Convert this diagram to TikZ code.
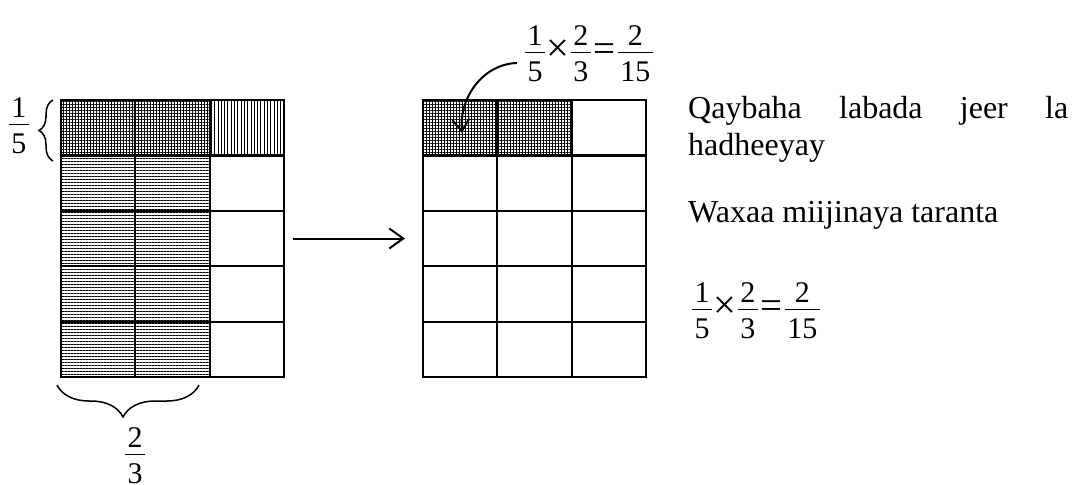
\documentclass[tikz,border=0pt]{standalone}
\usepackage{fontspec}
\setmainfont{Liberation Serif}
\usetikzlibrary{arrows.meta, positioning, patterns.meta, decorations.pathreplacing}
\newcommand{\fr}[2]{\raisebox{-22pt}{\vbox{\halign{\hfil\kern2.5pt##\kern2.5pt\hfil\cr #1\cr\noalign{\kern6pt\hrule height 1.3pt\kern9pt}#2\cr}}}}
\newcommand{\optimes}{\kern1.5pt\raisebox{-1.5pt}{\scalebox{1.35}{×}}\kern1.5pt}
\newcommand{\opeq}{\kern2.5pt\raisebox{-1.5pt}{\scalebox{1.3}{=}}\kern2.5pt}
\tikzset{
  gridbox/.style={rectangle, minimum width=223pt, minimum height=277pt, inner sep=0pt, outer sep=0pt},
  cellrule/.style={line width=2.2pt},
  crosshatch/.style={pattern={Hatch[angle=0, distance=3pt, line width=0.7pt]}},
  hlines/.style={pattern={Lines[angle=0, distance=3pt, line width=0.6pt]}},
  vlines/.style={pattern={Lines[angle=90, distance=3.3pt, line width=0.6pt]}},
  frac/.style={inner sep=0pt, font=\fontsize{30}{36}\selectfont},
  txt/.style={inner sep=0pt, anchor=base west, font=\fontsize{32}{38}\selectfont},
  curly/.style={decorate, line width=1.5pt},
  arr/.style={-{Straight Barb[length=14pt, width=20pt]}, line width=2pt},
  curvearr/.style={-{Straight Barb[length=12pt, width=17pt]}, line width=2pt},
}
\begin{document}
\begin{tikzpicture}[x=1pt, y=1pt, node distance=139pt]
  \useasboundingbox (0,0) rectangle (1072,-485);
  \node[gridbox] (lgrid) at (172.5,-238.5) {};
  \node[gridbox, right=of lgrid] (rgrid) {};
  \fill[crosshatch] (lgrid.north west) rectangle ++(148.67,-55.4);
  \fill[vlines] ([xshift=148.67pt]lgrid.north west) rectangle ++(74.33,-55.4);
  \fill[hlines] ([yshift=-55.4pt]lgrid.north west) rectangle ++(148.67,-221.6);
  \fill[crosshatch] (rgrid.north west) rectangle ++(148.67,-55.4);
  \foreach \g in {lgrid, rgrid} {
    \draw[cellrule] (\g.north west) rectangle (\g.south east);
    \foreach \i in {1,2}
      \draw[cellrule] ([xshift=\i*74.33pt]\g.north west) -- ([xshift=\i*74.33pt]\g.south west);
    \foreach \j in {1,...,4}
      \draw[cellrule] ([yshift=-\j*55.4pt]\g.north west) -- ([yshift=-\j*55.4pt]\g.north east);
  }
  \draw[arr, shorten <=9pt, shorten >=18pt] (lgrid) -- (rgrid);
  \node[frac] (fifth) at (19,-126) {\fr{1}{5}};
  \draw[curly, decoration={brace, amplitude=14pt}]
    ([shift={(-8,-61)}]lgrid.north west) -- ([xshift=-8pt]lgrid.north west);
  \draw[curly, decoration={brace, amplitude=32pt, aspect=0.535}]
    ([shift={(138,-8)}]lgrid.south west) -- ([shift={(-4,-8)}]lgrid.south west);
  \node[frac] (twothirds) at (135,-456) {\fr{2}{3}};
  \node[frac] (topeq) at (589,-54) {\fr{1}{5}\optimes\fr{2}{3}\opeq\fr{2}{15}};
  \coordinate (tip) at ([shift={(39,-33)}]rgrid.north west);
  \draw[curvearr] ([shift={(-8,-9)}]topeq.west) to[out=182, in=95] (tip);
  \node[txt] (line1) at (688,-118) {\makebox[380pt][s]{Qaybaha labada jeer la}};
  \node[txt] (line2) at (688,-155) {hadheeyay};
  \node[txt] (line3) at (688,-222) {Waxaa miijinaya taranta};
  \node[frac] (boteq) at (756,-311) {\fr{1}{5}\optimes\fr{2}{3}\opeq\fr{2}{15}};
\end{tikzpicture}
\end{document}
